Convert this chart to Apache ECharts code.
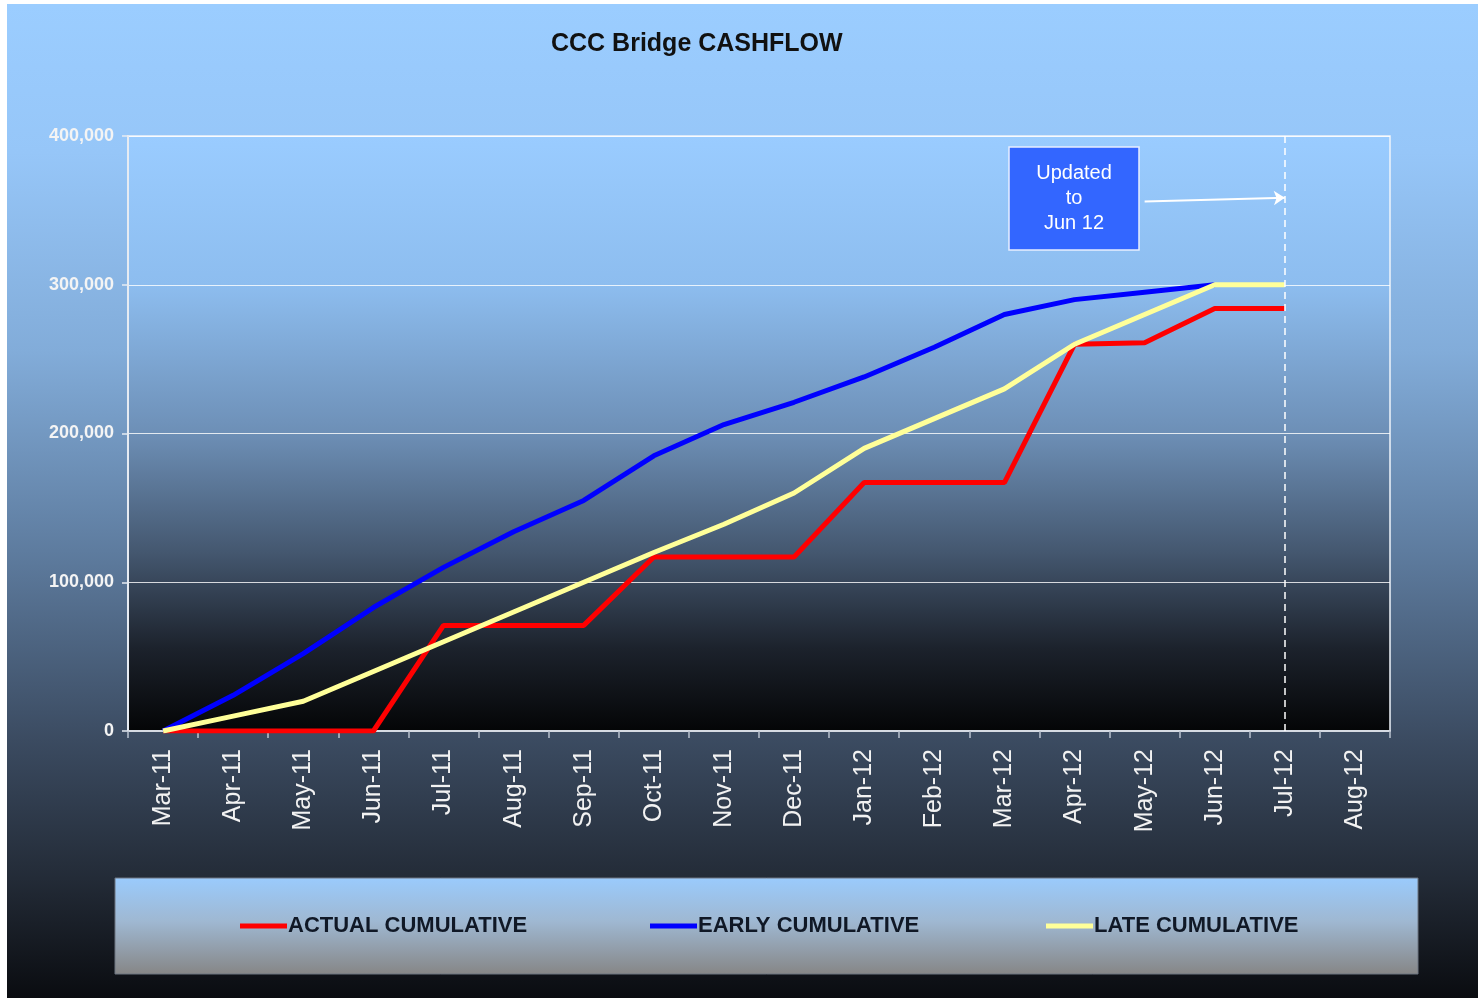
<!DOCTYPE html>
<html>
<head>
<meta charset="utf-8">
<script src="https://cdn.jsdelivr.net/npm/echarts@6/dist/echarts.min.js"></script>
<style>
  html, body { margin: 0; padding: 0; background: #fff; }
  #chart { width: 1478px; height: 998px; }
</style>
</head>
<body>
<div id="chart"></div>
<script>
// months on the x axis
const months = ['Mar-11', 'Apr-11', 'May-11', 'Jun-11', 'Jul-11', 'Aug-11', 'Sep-11', 'Oct-11', 'Nov-11',
  'Dec-11', 'Jan-12', 'Feb-12', 'Mar-12', 'Apr-12', 'May-12', 'Jun-12', 'Jul-12', 'Aug-12']

// cumulative values
const actualCum = [0, 0, 0, 0, 71000, 71000, 71000, 117000, 117000, 117000, 167000, 167000, 167000, 260000, 261000, 284000, 284000, null]
const earlyCum = [0, 24000, 52000, 83000, 110000, 134000, 155000, 185000, 206000, 221000, 238000, 258000, 280000, 290000, 295000, 300000, null, null]
const lateCum = [0, 10000, 20000, 40000, 60000, 80000, 100000, 120000, 139000, 160000, 190000, 210000, 230000, 260000, 280000, 300000, 300000, null]

const yTicks = { min: 0, max: 400000, interval: 100000 }
const updatedTo = 'Jul-12'

const FONT = '"Liberation Sans", Arial, sans-serif'
const chart = echarts.init(document.getElementById('chart'))

const vGrad = (stops) => new echarts.graphic.LinearGradient(0, 0, 0, 1,
  stops.map(([offset, color]) => ({ offset, color })))

const legendText = { color: '#101826', fontSize: 22, fontWeight: 'bold', fontFamily: FONT, padding: [0, 0, 0, -4] }
const legendBase = { top: 915, padding: 0, icon: 'rect', itemWidth: 47, itemHeight: 5, textStyle: legendText, selectedMode: false }

chart.setOption({
  backgroundColor: '#ffffff',
  animation: false,
  graphic: [
    // outer gradient panel
    {
      type: 'rect', z: -10, silent: true,
      shape: { x: 7, y: 4, width: 1471, height: 994 },
      style: { fill: vGrad([[0, '#9bcdff'], [0.15, '#96c6f8'], [0.35, '#82acd9'], [0.55, '#5e7c9f'], [0.74, '#3b4b61'], [0.88, '#232b37'], [1, '#0a0c10']]) }
    },
    // legend panel
    {
      type: 'rect', z: -5, silent: true,
      shape: { x: 115, y: 878, width: 1303, height: 96 },
      style: { fill: vGrad([[0, '#9acbfd'], [0.45, '#9fb8d2'], [1, '#868686']]), stroke: '#6d7480', lineWidth: 1 }
    },
    // "Updated to Jun 12" box
    {
      type: 'rect', z: 20, silent: true,
      shape: { x: 1009, y: 147, width: 130, height: 103 },
      style: { fill: '#3366ff', stroke: '#e8eeff', lineWidth: 1.5 }
    },
    {
      type: 'text', z: 21, silent: true, x: 1074, y: 161,
      style: {
        text: 'Updated\nto\nJun 12', fill: '#ffffff', font: '20px ' + FONT,
        lineHeight: 25, align: 'center', verticalAlign: 'top'
      }
    }
  ],
  title: {
    text: 'CCC Bridge CASHFLOW',
    left: 546, top: 27,
    textStyle: { color: '#111111', fontSize: 25, fontWeight: 'bold', fontFamily: FONT }
  },
  legend: [
    Object.assign({ left: 240, data: ['ACTUAL CUMULATIVE'] }, legendBase),
    Object.assign({ left: 650, data: ['EARLY CUMULATIVE'] }, legendBase),
    Object.assign({ left: 1046, data: ['LATE CUMULATIVE'] }, legendBase)
  ],
  grid: {
    left: 128, right: 88, top: 136, bottom: 267,
    show: true, borderColor: '#eef3fa', borderWidth: 1.5,
    backgroundColor: vGrad([[0, '#9accff'], [0.25, '#8dbdef'], [0.5, '#6d8fb6'], [0.7, '#44576f'], [0.86, '#1c222c'], [1, '#040506']])
  },
  xAxis: {
    type: 'category', data: months, boundaryGap: true,
    axisLine: { lineStyle: { color: '#d6dbe3', width: 2 } },
    axisTick: { show: true, length: 7, lineStyle: { color: '#b9c2cf', width: 1.5 } },
    axisLabel: { interval: 0, rotate: 90, margin: 18, color: '#f2f2f2', fontSize: 25, fontFamily: FONT },
    splitLine: { show: false }
  },
  yAxis: {
    type: 'value', min: yTicks.min, max: yTicks.max, interval: yTicks.interval,
    axisLine: { show: true, lineStyle: { color: '#e6ebf2', width: 2 } },
    axisTick: { show: true, length: 6, lineStyle: { color: '#e6ebf2', width: 1.5 } },
    axisLabel: {
      margin: 14, color: '#f4f4f4', fontSize: 18, fontWeight: 'bold', fontFamily: FONT,
      formatter: v => v.toLocaleString('en-US')
    },
    splitLine: { lineStyle: { color: 'rgba(255,255,255,0.8)', width: 1.2 } }
  },
  series: [
    {
      name: 'ACTUAL CUMULATIVE', type: 'line', data: actualCum,
      symbol: 'none', itemStyle: { color: '#ff0000' }, lineStyle: { color: '#ff0000', width: 5 },
      markLine: {
        silent: true, symbol: 'none', label: { show: false },
        lineStyle: { color: '#ffffff', type: [7, 5], width: 1.5 },
        data: [{ xAxis: updatedTo }]
      }
    },
    {
      name: 'EARLY CUMULATIVE', type: 'line', data: earlyCum,
      symbol: 'none', itemStyle: { color: '#0000ff' }, lineStyle: { color: '#0000ff', width: 5 },
      markLine: {
        silent: true, symbol: ['none', 'arrow'], symbolSize: 11, label: { show: false },
        lineStyle: { color: '#ffffff', type: 'solid', width: 2 },
        data: [[{ coord: ['May-12', 356000] }, { coord: [updatedTo, 358500] }]]
      }
    },
    {
      name: 'LATE CUMULATIVE', type: 'line', data: lateCum,
      symbol: 'none', itemStyle: { color: '#ffff99' }, lineStyle: { color: '#ffff99', width: 5 }
    }
  ]
})
</script>
</body>
</html>
